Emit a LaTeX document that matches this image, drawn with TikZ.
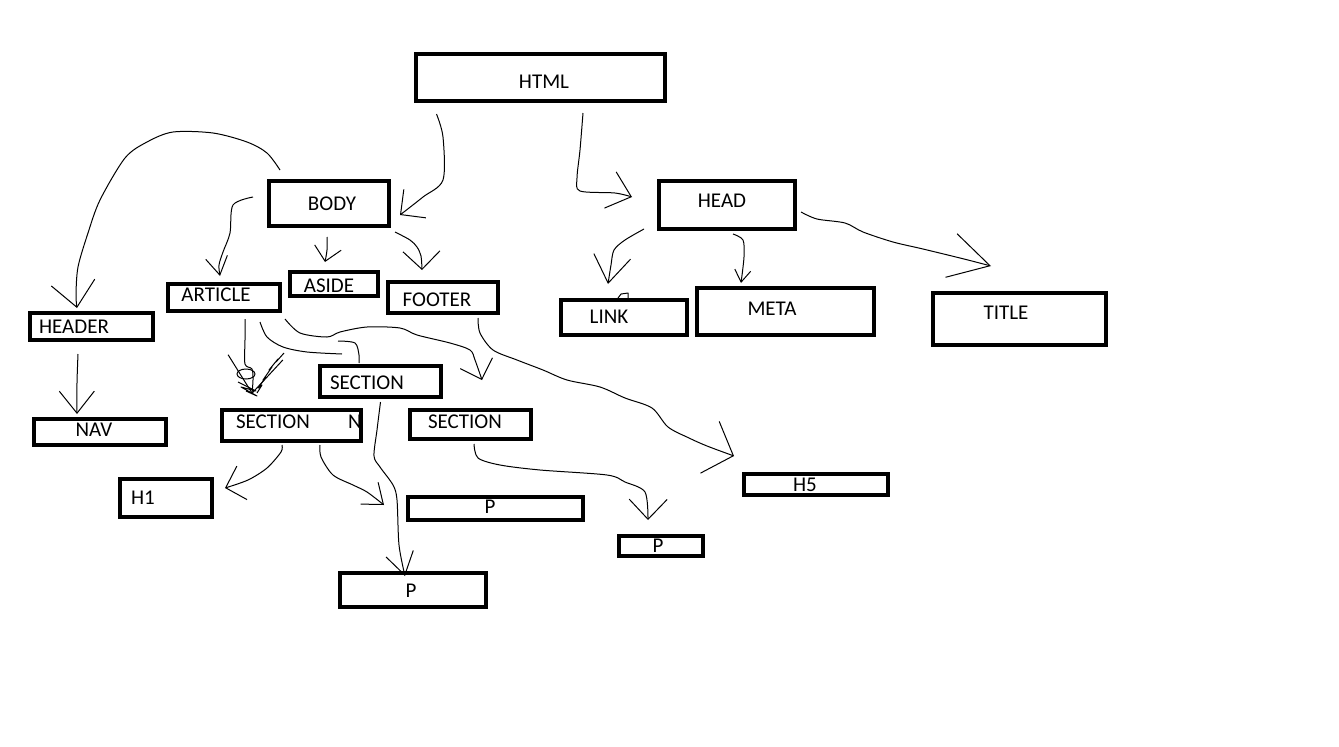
\documentclass[tikz,border=0pt]{standalone}
\usepackage{fontspec}
\setmainfont{Carlito}
\usetikzlibrary{arrows.meta}

\begin{document}
\begin{tikzpicture}[
    x=1pt,
    y=-1pt,
    box/.style={
        draw=black,
        line width=4pt,
        inner sep=0pt
    },
    tag/.style={
        inner sep=0pt,
        font=\fontsize{21}{25}\selectfont
    },
    wire/.style={
        draw=black,
        line width=1pt,
        line join=round
    },
    tipv/.style 2 args={
        -{Straight Barb[length=#1pt,width=#2pt]}
    }
]

% Page
\path[use as bounding box] (0,0) rectangle (1339,747);

% Letter half hidden by the left SECTION box
\node[tag] (secleft-n) at (355,422) {N};

% Boxes: name/left/top/right/bottom/text x/text y/text
\foreach \nm/\xa/\ya/\xb/\yb/\tx/\ty/\txt in {
    html/414/52/667/103/544/82/HTML,
    body/267/179/391/228/332/204/BODY,
    head/657/179/797/231/722/201/HEAD,
    header/28/311/155/342/74/327/HEADER,
    article/166/282/282/313/216/295/ARTICLE,
    aside/288/270/380/298/329/286/ASIDE,
    footer/386/280/500/315/437/300/FOOTER,
    link/559/298/689/337/609/317/LINK,
    meta/695/286/876/337/772/309/META,
    title/931/291/1108/347/1006/313/TITLE,
    sectop/318/364/443/399/367/383/SECTION,
    secleft/220/408/363/443/273/422/SECTION,
    secright/408/408/533/441/465/422/SECTION,
    nav/32/417/168/447/94/430/NAV,
    hone/118/477/214/519/143/498/H1,
    pmid/406/495/585/522/490/507/P,
    pbot/338/571/488/609/411/591/P,
    hfive/742/472/890/497/805/485/H5,
    pright/617/534/705/558/658/546/P
}{
    \node[box, minimum width={\xb-\xa-4}, minimum height={\yb-\ya-4}]
        (\nm) at ({(\xa+\xb)/2},{(\ya+\yb)/2}) {};
    \node[tag] (\nm-t) at (\tx,\ty) {\txt};
}

% HTML
\draw[wire, tipv={18}{36}] plot[smooth] coordinates {
    ([shift={(-104,11)}]html.south) (443,137) (443,180) (423,197)
    ([shift={(9,11.5)}]body.east)};
\draw[wire, tipv={22}{38}] plot[smooth] coordinates {
    ([shift={(42.5,10)}]html.south) (580,150) (577,178) (580,191) (615,193)
    ([shift={(-25,-8)}]head.west)};

% BODY
\draw[wire, tipv={25}{44}] plot[smooth] coordinates {
    ([shift={(13,-9)}]body.north west) (267,153) (247,142) (213,133) (173,132)
    (147,142) (125,158) (100,200) (88,233) (78,267) (76,295)
    ([shift={(-14.5,-3)}]header.north)};
\draw[wire, tipv={18}{22}] plot[smooth] coordinates {
    ([shift={(-14,-6.5)}]body.west) (233,205) (230,233) (223,252) (219,265)
    ([shift={(-4,-6)}]article.north)};
\draw[wire, tipv={14}{27}] plot[smooth] coordinates {
    ([shift={(-2,9)}]body.south) (327,250) ([shift={(-9,-8)}]aside.north)};
\draw[wire, tipv={18}{37}] plot[smooth] coordinates {
    ([shift={(4,4)}]body.south east) (410,240) (417,247) (421,256)
    ([shift={(-21,-10)}]footer.north)};

% HEADER
\draw[wire, tipv={22}{35}] plot[smooth] coordinates {
    ([shift={(-13.5,12)}]header.south) (77,383) ([shift={(-23,-3)}]nav.north)};

% ARTICLE
\draw[wire, tipv={36}{55}] plot[smooth] coordinates {
    ([shift={(21,6)}]article.south) (245,340) (245,364) (252,369) (253,380)
    ([shift={(-39.5,-14)}]secleft.north)};
\draw[wire] (246,374) ellipse (9 and 5);
\draw[wire] (257,393) -- (262,385) -- (258,388) -- (266,377) -- (263,380)
    -- (272,367) -- (269,370) -- (278,359) -- (276,362) -- (284,353);
\draw[wire] (238,382) -- (256,391) -- (241,387) -- (257,396) -- (246,391);
\draw[wire] plot[smooth] coordinates {
    ([shift={(36,9)}]article.south) (267,337) (283,347) (307,352) (342,354)}
    plot[smooth] coordinates {
    (338,341) (355,343) (359,355) ([shift={(-21.5,-1)}]sectop.north)};
\draw[wire, tipv={17}{34}] plot[smooth] coordinates {
    ([shift={(3,6)}]article.south east) (300,333) (327,337) (340,332)
    (367,327) (400,328) (417,335) (450,343) (470,350) (475,360)
    ([shift={(11.5,-28)}]secright.north)};

% FOOTER
\draw[wire, tipv={25}{55}] plot[smooth] coordinates {
    ([shift={(35,3)}]footer.south) (480,333) (493,350) (517,360) (543,370)
    (567,380) (600,387) (625,398) (652,408) (668,427) (689,438) (707,446)
    ([shift={(-8,-16)}]hfive.north west)};

% HEAD
\draw[wire, tipv={27}{37}] plot[smooth] coordinates {
    ([shift={(-13,-2)}]head.south west) (625,240) (614,250) (611,265)
    ([shift={(-16,-14)}]link.north)};
\draw[wire] (618,298) -- (621,294) -- (628,293) -- (628,299);
\draw[wire, tipv={12}{16}] plot[smooth] coordinates {
    ([shift={(6,3)}]head.south) (743,240) (744,257)
    ([shift={(-44.5,-3)}]meta.north)};
\draw[wire, tipv={40}{45}] plot[smooth] coordinates {
    ([shift={(4,7)}]head.east) (817,219) (845,223) (863,232) (893,242)
    (923,249) (964,259) ([shift={(-28.5,-25)}]title.north)};

% SECTION
\draw[wire, tipv={22}{28}] plot[smooth] coordinates {
    ([shift={(0,3)}]sectop.south) (377,430) (374,456) (380,467) (393,485)
    (397,500) (399,545) ([shift={(-8,5)}]pbot.north)};
\draw[wire, tipv={17}{35}] plot[smooth] coordinates {
    ([shift={(-9.5,2)}]secleft.south) (281,452) (267,468) (248,480)
    ([shift={(11,-10)}]hone.east)};
\draw[wire, tipv={18}{28}] plot[smooth] coordinates {
    ([shift={(28.5,2)}]secleft.south) (321,457) (333,475) (353,485) (367,492)
    ([shift={(-22,-3.5)}]pmid.west)};
\draw[wire, tipv={20}{38}] plot[smooth] coordinates {
    ([shift={(3.5,3)}]secright.south) (478,458) (500,465) (540,470) (607,475)
    (625,482) (645,492) ([shift={(-13,-14)}]pright.north)};
\end{tikzpicture}
\end{document}
